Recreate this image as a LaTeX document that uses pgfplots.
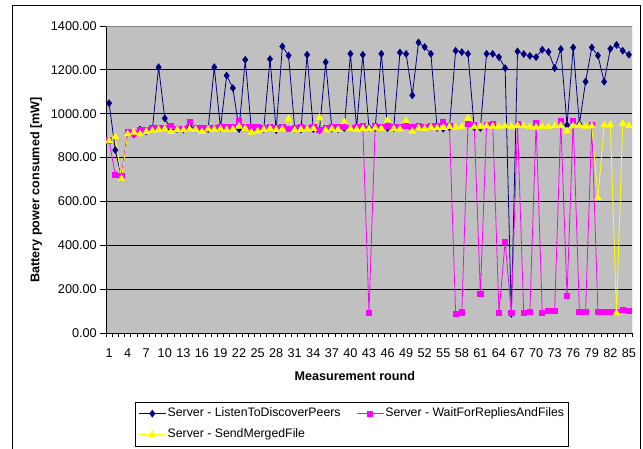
\documentclass[border=0pt]{standalone}
\usepackage{pgfplots}
\pgfplotsset{compat=1.18}
\usepackage{pgfplotstable}
\usepackage{fontspec}
\setmainfont{Liberation Sans}

\definecolor{plotgray}{RGB}{192,192,192}
\definecolor{listencol}{RGB}{0,0,128}
\definecolor{waitcol}{RGB}{255,0,255}
\definecolor{sendcol}{RGB}{255,255,0}
\definecolor{framegray}{RGB}{128,128,128}

% round, ListenToDiscoverPeers, WaitForRepliesAndFiles, SendMergedFile [mW]
\pgfplotstableread{
r L W S
1 1048 878 876
2 834 720 895
3 712 717 705
4 912 918 907
5 906 910 915
6 928 925 907
7 920 928 918
8 930 935 922
9 1212 935 928
10 979 936 930
11 928 944 918
12 930 932 928
13 928 932 926
14 940 962 930
15 932 935 928
16 925 935 918
17 930 936 930
18 1212 935 928
19 935 940 930
20 1174 938 926
21 1117 940 928
22 930 965 942
23 1246 940 932
24 926 938 915
25 928 940 920
26 930 937 928
27 1249 938 932
28 925 936 926
29 1307 940 930
30 1265 930 976
31 930 935 925
32 928 938 928
33 1269 936 930
34 930 940 932
35 925 926 982
36 1235 935 925
37 932 938 930
38 930 940 928
39 935 942 963
40 1273 936 932
41 935 940 928
42 1269 945 932
43 935 92 930
44 935 942 934
45 1273 940 932
46 935 944 971
47 935 938 932
48 1279 940 930
49 1273 946 968
50 1084 940 920
51 1325 942 934
52 1304 940 932
53 1273 944 938
54 935 945 934
55 932 963 936
56 938 945 940
57 1287 87 938
58 1281 94 940
59 1273 955 979
60 938 950 940
61 935 178 940
62 1273 950 944
63 1273 952 942
64 1258 92 940
65 1208 417 944
66 87 90 942
67 1284 952 946
68 1272 90 944
69 1264 97 940
70 1258 958 938
71 1292 90 942
72 1282 100 940
73 1208 100 944
74 1295 965 946
75 948 169 921
76 1302 968 944
77 953 97 946
78 1146 97 942
79 1302 948 944
80 1265 97 616
81 1146 97 948
82 1296 97 948
83 1314 97 91
84 1287 107 955
85 1269 100 945
}\powerdata

\begin{document}
\begin{tikzpicture}
\useasboundingbox (0,0) rectangle (643bp,449bp);
\clip (0,0) rectangle (643bp,449bp);
\fill[white] (0,0) rectangle (643bp,449bp);
% chart area frame
\draw[black, line width=0.8bp] (12bp,444bp) rectangle (640bp,-20bp);
\begin{axis}[
  at={(106bp,116bp)}, anchor=south west,
  width=526bp, height=307bp, scale only axis,
  xmin=0.5, xmax=85.5, ymin=0, ymax=1400,
  axis background/.style={fill=plotgray},
  axis x line*=bottom, axis y line*=left,
  axis line style={black, line width=0.8bp},
  ytick={0,200,...,1400},
  yticklabels={0.00,200.00,400.00,600.00,800.00,1000.00,1200.00,1400.00},
  xtick={1,4,...,85},
  xticklabels={1,4,7,10,13,16,19,22,25,28,31,34,37,40,43,46,49,52,55,58,61,64,67,70,73,76,79,82,85},
  minor xtick={0.5,1.5,...,85.5},
  major x tick style={draw=none},
  tick align=outside,
  major tick length=5.5bp, minor tick length=4bp,
  tick style={black, line width=0.8bp},
  ymajorgrids,
  grid style={black, line width=0.8bp},
  tick label style={font=\fontsize{12.7bp}{15bp}\selectfont},
  yticklabel style={anchor=east, inner sep=0pt, xshift=-3.5bp},
  xticklabel style={anchor=north, inner sep=0pt, yshift=-9.7bp},
  xlabel={Measurement round},
  ylabel={Battery power consumed [mW]},
  label style={font=\bfseries\fontsize{12.6bp}{15bp}\selectfont},
  xlabel style={at={(axis description cs:0.473,0)}, anchor=center, yshift=-43bp},
  ylabel style={at={(axis description cs:-0.133,0.466)}, anchor=center},
  legend columns=2,
  legend cell align=left,
  legend image code/.code={\draw[mark repeat=2,mark phase=2] plot coordinates {(0bp,0bp) (13.5bp,0bp) (27bp,0bp)};},
  legend style={at={(axis description cs:0.0551,-0.2238)}, anchor=north west,
    draw=black, line width=0.8bp, fill=white,
    font=\fontsize{12.3bp}{15bp}\selectfont,
    inner xsep=3bp, inner ysep=3.5bp, row sep=5bp,
    nodes={inner xsep=1.5bp, inner ysep=2bp, text height=9bp, text depth=3bp},
    /tikz/every even column/.append style={column sep=14bp}},
]
\addplot[color=listencol, line width=0.8bp, mark=diamond*, mark size=3.3bp,
  mark options={solid, fill=listencol}] table[x=r, y=L] {\powerdata};
\addplot[color=waitcol, line width=0.8bp, mark=square*, mark size=2.6bp,
  mark options={solid, fill=waitcol}] table[x=r, y=W] {\powerdata};
\addplot[color=sendcol, line width=0.8bp, mark=triangle*, mark size=3.7bp,
  mark options={solid, fill=sendcol}] table[x=r, y=S] {\powerdata};
\legend{Server - ListenToDiscoverPeers, Server - WaitForRepliesAndFiles, Server - SendMergedFile}
\draw[framegray, line width=0.8bp] (rel axis cs:0,1) -- (rel axis cs:1,1) -- (rel axis cs:1,0);
\end{axis}
\end{tikzpicture}
\end{document}
